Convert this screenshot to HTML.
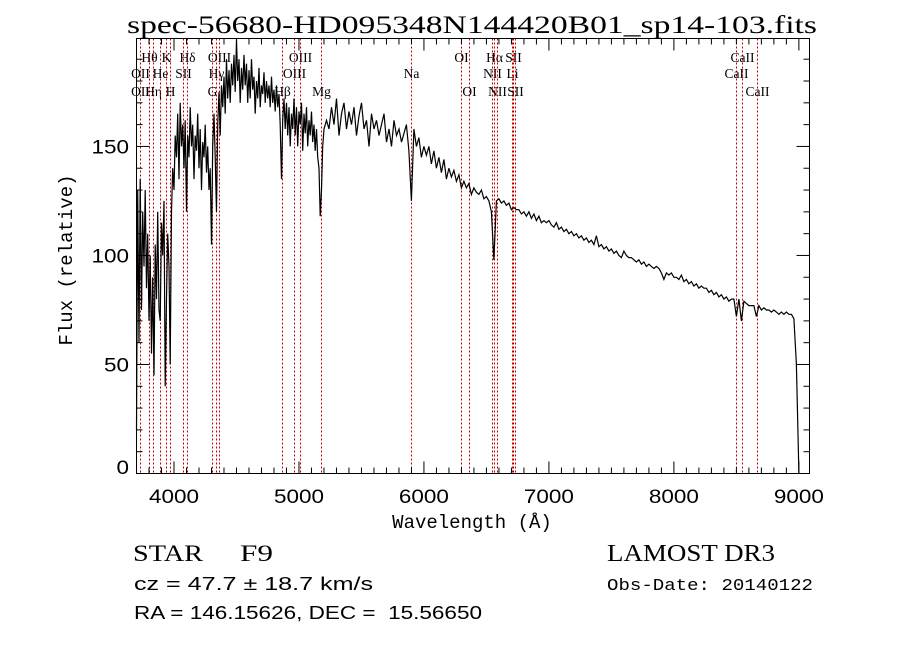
<!DOCTYPE html>
<html><head><meta charset="utf-8"><style>
html,body{margin:0;padding:0;background:#fff;}
svg{display:block;}
</style></head><body>
<svg id="chart" width="900" height="649" viewBox="0 0 900 649" xmlns="http://www.w3.org/2000/svg">
<rect width="900" height="649" fill="#fff"/>
<text x="472" y="33" text-anchor="middle" font-family="Liberation Serif, serif" font-size="25" textLength="690" lengthAdjust="spacingAndGlyphs">spec-56680-HD095348N144420B01_sp14-103.fits</text>
<g id="lines"></g>
<g id="ticks"></g>
<polyline id="spec" fill="none" stroke="#000" stroke-width="1.2"/>
<rect x="136.5" y="38.5" width="673" height="435" fill="none" stroke="#000" stroke-width="1"/>
<text transform="translate(72,260) rotate(-90)" text-anchor="middle" font-family="Liberation Mono, monospace" font-size="19">Flux (relative)</text>
<text x="472" y="528" text-anchor="middle" font-family="Liberation Mono, monospace" font-size="19">Wavelength (Å)</text>
<text x="133" y="561" font-family="Liberation Serif, serif" font-size="23" textLength="70" lengthAdjust="spacingAndGlyphs">STAR</text>
<text x="240" y="561" font-family="Liberation Serif, serif" font-size="23" textLength="33" lengthAdjust="spacingAndGlyphs">F9</text>
<text x="134" y="590" font-family="Liberation Sans, sans-serif" font-size="18" textLength="239" lengthAdjust="spacingAndGlyphs">cz = 47.7 ± 18.7 km/s</text>
<text x="134" y="619" font-family="Liberation Sans, sans-serif" font-size="18" textLength="348" lengthAdjust="spacingAndGlyphs" xml:space="preserve">RA = 146.15626, DEC =  15.56650</text>
<text x="607" y="561" font-family="Liberation Serif, serif" font-size="24" textLength="168" lengthAdjust="spacingAndGlyphs">LAMOST DR3</text>
<text x="607" y="590" font-family="Liberation Mono, monospace" font-size="17" textLength="206" lengthAdjust="spacingAndGlyphs">Obs-Date: 20140122</text>
</svg>
<script>
// blue segment: 3700..5200 step 10
const fluxBlue = [
20,130,60,135,75,120,95,130,85,110,
70,100,55,90,45,105,80,120,75,70,
115,100,125,40,80,110,95,50,120,140,
130,155,145,165,135,170,150,160,140,162,
120,155,145,168,150,160,135,155,148,165,
140,158,130,152,145,160,138,150,130,140,
105,150,165,145,120,160,175,155,178,168,
182,165,190,172,185,170,188,178,192,175,
199,180,190,170,186,176,192,178,188,170,
185,172,190,176,182,165,180,172,186,168,
178,174,184,170,180,172,178,168,182,170,
176,166,178,168,174,160,135,162,172,158,
170,155,168,150,165,158,172,155,168,150,
166,160,170,148,165,156,168,150,162,155,
166,152,160,148,158,145,140,118,130,150,
158];
// red segment: 5220..9000 step 20
const fluxRed = [
162,158,168,160,172,155,165,170,158,166,
160,168,155,164,170,158,162,150,165,158,
162,155,160,165,152,158,150,162,155,158,
152,156,160,148,125,158,150,154,145,150,
146,150,142,148,140,145,138,144,135,140,
136,139,134,137,131,134,131,133,128,131,
129,128,130,126,127,125,120,98,125,126,
124,125,123,124,121,122,121,121,119,120,
118,120,117,119,116,118,115,116,115,116,
114,113,115,112,113,111,112,110,111,109,
110,108,109,107,108,106,107,105,109,104,
105,103,104,102,103,101,102,100,99,102,
100,99,99,98,97,98,96,97,95,96,
95,94,95,94,92,89,92,91,92,90,
90,89,91,88,89,87,88,86,87,85,
86,85,85,83,84,82,83,81,82,80,
81,79,80,80,72,80,70,79,78,77,
77,77,72,77,75,76,75,75,74,75,
74,73,74,73,74,73,73,71,50,0];
const blueStart = 3700, blueStep = 10, redStart = 5220, redStep = 20;
const lineWaves = [3727,3729,3798,3835,3889,3934,3968,4072,4102,4304,4340,4363,4861,4959,5007,5175,5893,6300,6364,6548,6563,6583,6708,6716,6731,8498,8542,8662];
const lineLabels = ["OII","OII","Hθ","Hη","He","K","H","SII","Hδ","G","Hγ","OIII","Hβ","OIII","OIII","Mg","Na","OI","OI","NII","Hα","NII","Li","SII","SII","CaII","CaII","CaII"];
const lineRows = [2,3,1,3,2,1,3,2,1,3,2,1,3,2,1,3,2,1,3,2,1,3,2,1,3,2,1,3];
const xTicks = [4000,5000,6000,7000,8000,9000];
const yTicks = [0,50,100,150];

const X0=136.5, X1=809.5, Y0=473.5, Y1=38.5;
const xmin=3700, xmax=9085, ymin=0, ymax=199.5;
const sx = w => X0 + (w-xmin)/(xmax-xmin)*(X1-X0);
const sy = f => Y0 - (f-ymin)/(ymax-ymin)*(Y0-Y1);
const NS='http://www.w3.org/2000/svg';
function mk(tag, attrs, parent){const e=document.createElementNS(NS,tag);for(const k in attrs)e.setAttribute(k,attrs[k]);parent.appendChild(e);return e;}

const pts=[];
fluxBlue.forEach((f,i)=>pts.push(sx(blueStart+i*blueStep).toFixed(1)+','+sy(f).toFixed(1)));
fluxRed.forEach((f,i)=>pts.push(sx(redStart+i*redStep).toFixed(1)+','+sy(f).toFixed(1)));
document.getElementById('spec').setAttribute('points',pts.join(' '));

const lg=document.getElementById('lines');
const rowY={1:62,2:78,3:96};
lineWaves.forEach((w,i)=>{
  const x=Math.round(sx(w))+0.5;
  const l=mk('line',{x1:x,x2:x,y1:Y1,y2:Y0,stroke:'#c00000','stroke-width':1,'stroke-dasharray':'2,2'},lg);
  
  
  const t=mk('text',{x:x,y:rowY[lineRows[i]],'text-anchor':'middle','font-family':'Liberation Serif, serif','font-size':13.5},lg);
  
  
  t.textContent=lineLabels[i];
});

const tg=document.getElementById('ticks');
for(let w=3700;w<=9000;w+=100){
  const x=sx(w), major=(w%1000===0), len=major?12:6;
  mk('line',{x1:x,x2:x,y1:Y0,y2:Y0-len,stroke:'#000'},tg);
  mk('line',{x1:x,x2:x,y1:Y1,y2:Y1+len,stroke:'#000'},tg);
}
xTicks.forEach(w=>{
  const t=mk('text',{x:sx(w)-25,y:503,'font-family':'Liberation Sans, sans-serif','font-size':19,textLength:50,lengthAdjust:'spacingAndGlyphs'},tg);
  
  
  t.textContent=w;
});
for(let f=0;f<=190;f+=10){
  const y=sy(f), major=(f%50===0), len=major?13:6;
  mk('line',{x1:X0,x2:X0+len,y1:y,y2:y,stroke:'#000'},tg);
  mk('line',{x1:X1,x2:X1-len,y1:y,y2:y,stroke:'#000'},tg);
}
yTicks.forEach(f=>{
  const s=String(f), w=s.length*12.5;
  const t=mk('text',{x:129-w,y:Math.min(sy(f)+7,474),'font-family':'Liberation Sans, sans-serif','font-size':19,textLength:w,lengthAdjust:'spacingAndGlyphs'},tg);
  
  
  t.textContent=s;
});
</script>
</body></html>
